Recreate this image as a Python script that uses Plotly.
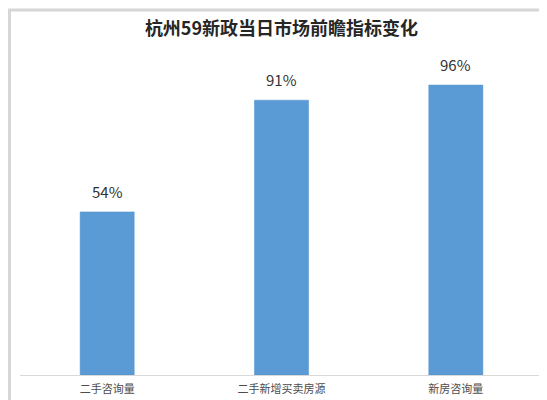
import plotly.graph_objects as go

categories = ["二手咨询量", "二手新增买卖房源", "新房咨询量"]
values = [54, 91, 96]
value_labels = ["54%", "91%", "96%"]

W, H = 547, 400
L, R, T, B = 12, 12, 65, 31
pw, ph = W - L - R, H - T - B

bar = go.Bar(
    x=categories,
    y=values,
    width=0.31,
    marker=dict(color="#5b9bd5", line=dict(color="#4f8fc9", width=0.5)),
    hoverinfo="x+y",
)

fig = go.Figure(data=[bar])

# value labels sit a little higher above the bars than plotly's default pad
for cat, v, lab in zip(categories, values, value_labels):
    fig.add_annotation(
        x=cat,
        y=v,
        text=lab,
        showarrow=False,
        yanchor="bottom",
        yshift=8,
        font=dict(size=15, color="#333333"),
    )

fig.update_layout(
    width=W,
    height=H,
    margin=dict(l=L, r=R, t=T, b=B),
    paper_bgcolor="white",
    plot_bgcolor="white",
    font=dict(family="Noto Sans CJK SC, Noto Sans, sans-serif"),
    title=dict(
        text="<b>杭州59新政当日市场前瞻指标变化</b>",
        x=0.5,
        xanchor="center",
        y=1 - 20.5 / H,
        yanchor="middle",
        font=dict(size=18, color="#262626"),
    ),
    showlegend=False,
    xaxis=dict(
        showline=True,
        linecolor="#d9d9d9",
        linewidth=1,
        ticks="",
        ticklabelstandoff=4,
        tickfont=dict(size=11, color="#4d4d4d"),
        showgrid=False,
    ),
    yaxis=dict(
        range=[0, 100],
        visible=False,
        showgrid=False,
    ),
    shapes=[
        dict(
            type="rect",
            xref="paper",
            yref="paper",
            x0=-(L - 1.5) / pw,
            x1=1 + (R - 1.5) / pw,
            y0=-(B - 2) / ph,
            y1=1 + (T - 1.5) / ph,
            line=dict(color="#d6d6d6", width=3),
            layer="below",
        )
    ],
)

fig.write_html("out.html")
